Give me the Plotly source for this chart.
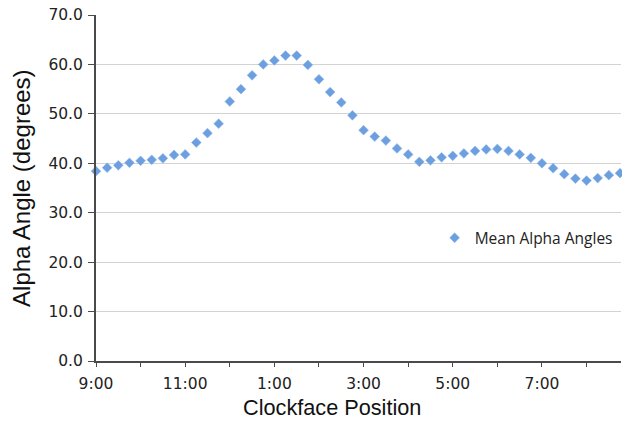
import plotly.graph_objects as go

positions = [
    "9:00", "9:15", "9:30", "9:45", "10:00", "10:15", "10:30", "10:45",
    "11:00", "11:15", "11:30", "11:45", "12:00", "12:15", "12:30", "12:45",
    "1:00", "1:15", "1:30", "1:45", "2:00", "2:15", "2:30", "2:45",
    "3:00", "3:15", "3:30", "3:45", "4:00", "4:15", "4:30", "4:45",
    "5:00", "5:15", "5:30", "5:45", "6:00", "6:15", "6:30", "6:45",
    "7:00", "7:15", "7:30", "7:45", "8:00", "8:15", "8:30", "8:45",
]
mean_alpha = [
    38.4, 39.1, 39.6, 40.1, 40.5, 40.7, 41.0, 41.7,
    41.8, 44.2, 46.1, 48.0, 52.5, 55.0, 57.8, 60.0,
    60.8, 61.8, 61.8, 59.9, 57.0, 54.4, 52.3, 49.7,
    46.7, 45.4, 44.6, 43.0, 41.8, 40.3, 40.6, 41.2,
    41.5, 42.0, 42.5, 42.8, 42.9, 42.5, 41.8, 41.1,
    40.0, 39.0, 37.8, 36.9, 36.5, 37.0, 37.6, 38.0,
]
hour_ticks = positions[::4]
hour_labels = [p if i % 2 == 0 else "" for i, p in enumerate(hour_ticks)]
y_ticks = [0, 10, 20, 30, 40, 50, 60, 70]
y_labels = ["0.0", "10.0", "20.0", "30.0", "40.0", "50.0", "60.0", "70.0"]

fig = go.Figure()
fig.add_trace(go.Scatter(
    x=positions, y=mean_alpha, mode="markers", name="Mean Alpha Angles",
    marker=dict(symbol="diamond", size=7.5, color="#6b9fe0",
                line=dict(color="#8db6ea", width=0.6)),
    cliponaxis=False,
))

tick_font = dict(family="DejaVu Sans", size=15.5, color="#222222")
axis_col = "#4a4a4a"

fig.update_layout(
    width=622, height=421,
    margin=dict(l=96, r=1, t=15, b=60),
    paper_bgcolor="white", plot_bgcolor="white",
    showlegend=True,
    legend=dict(x=0.645, xanchor="left", y=0.355, yanchor="middle",
                bgcolor="rgba(0,0,0,0)",
                font=dict(family="Open Sans", size=15.5, color="#222222")),
    xaxis=dict(
        type="category", range=[0, 47.09],
        tickmode="array", tickvals=hour_ticks, ticktext=hour_labels,
        ticks="outside", ticklen=4, tickwidth=1.2, tickcolor=axis_col,
        showline=True, linecolor=axis_col, linewidth=2,
        showgrid=False, zeroline=False, tickfont=tick_font,
        ticklabelstandoff=3,
    ),
    yaxis=dict(
        range=[0, 70], tickmode="array", tickvals=y_ticks, ticktext=y_labels,
        ticks="outside", ticklen=6, tickwidth=1.2, tickcolor=axis_col,
        showline=True, linecolor=axis_col, linewidth=2,
        showgrid=True, gridcolor="#d3d3d3", gridwidth=1.3,
        zeroline=False, tickfont=tick_font, ticklabelstandoff=2,
        ticklabeloverflow="allow",
    ),
    annotations=[
        dict(text="Alpha Angle (degrees)", xref="paper", yref="paper",
             x=-0.143, y=0.5, xanchor="center", yanchor="middle",
             textangle=-90, showarrow=False,
             font=dict(family="Liberation Sans", size=24, color="#111111")),
        dict(text="Clockface Position", xref="paper", yref="paper",
             x=0.4495, y=-0.133, xanchor="center", yanchor="middle",
             showarrow=False,
             font=dict(family="Liberation Sans", size=21.7, color="#111111")),
    ],
)

fig.write_html("out.html",
               config={"displayModeBar": False},
               post_script="document.body.style.margin='0';"
                           "document.body.style.overflow='hidden';")
